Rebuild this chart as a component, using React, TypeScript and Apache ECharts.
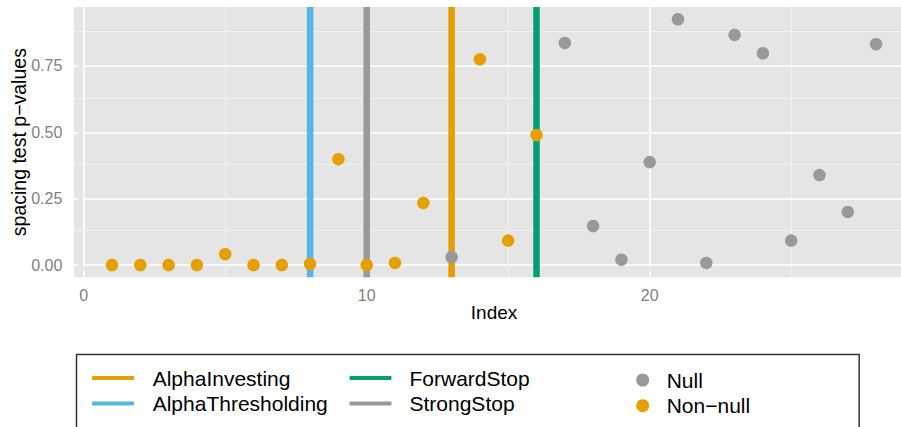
import React, { useEffect, useRef } from "react";
import * as echarts from "echarts";

// ---- data ----
const indices = [1, 2, 3, 4, 5, 6, 7, 8, 9, 10, 11, 12, 13, 14, 15, 16, 17, 18, 19, 20, 21, 22, 23, 24, 25, 26, 27, 28];
const pValues = [0.0, 0.0, 0.0, 0.0, 0.041, 0.0, 0.0, 0.004, 0.399, 0.0, 0.008, 0.234, 0.03, 0.775, 0.092, 0.49, 0.837, 0.147, 0.02, 0.388, 0.926, 0.008, 0.867, 0.798, 0.092, 0.339, 0.2, 0.832];
const truth = [
  "Non-null", "Non-null", "Non-null", "Non-null", "Non-null", "Non-null", "Non-null",
  "Non-null", "Non-null", "Non-null", "Non-null", "Non-null", "Null", "Non-null",
  "Non-null", "Non-null", "Null", "Null", "Null", "Null", "Null",
  "Null", "Null", "Null", "Null", "Null", "Null", "Null",
];
const stopRules = ["AlphaInvesting", "AlphaThresholding", "ForwardStop", "StrongStop"];
const stopIndex = [13, 8, 16, 10];
const stopColors = ["#E69F00", "#56B4E9", "#009E73", "#999999"];
const pointGroups = ["Null", "Non-null"];
const pointColors = ["#999999", "#E69F00"];

const xTicks = [0, 10, 20];
const yTicks = [0, 0.25, 0.5, 0.75];
const xMinorGrid = [5, 15, 25];
const yMinorGrid = [0.125, 0.375, 0.625, 0.875];
// visible part of the panel (it runs on past the right edge of the picture)
const xRange = [-0.35, 28.88];
const yRange = [-0.0463, 0.9723];

const FONT = "Liberation Sans, Arial, Helvetica, sans-serif";

export default function App() {
  const ref = useRef<HTMLDivElement>(null);
  useEffect(() => {
    if (!ref.current) return;
    const chart = echarts.init(ref.current, null, { renderer: "svg" });

    const gridLineData: any[] = [];
    xMinorGrid.forEach((v) => gridLineData.push({ xAxis: v, lineStyle: { color: "#F2F2F2", width: 0.9, type: "solid" } }));
    yMinorGrid.forEach((v) => gridLineData.push({ yAxis: v, lineStyle: { color: "#F2F2F2", width: 0.9, type: "solid" } }));
    xTicks.forEach((v) => gridLineData.push({ xAxis: v, lineStyle: { color: "#FFFFFF", width: 1.6, type: "solid" } }));
    yTicks.forEach((v) => gridLineData.push({ yAxis: v, lineStyle: { color: "#FFFFFF", width: 1.6, type: "solid" } }));

    const stopSeries = stopRules.map((name, i) => ({
      name,
      type: "line",
      z: 3,
      showSymbol: false,
      silent: true,
      data: [
        [stopIndex[i], yRange[0]],
        [stopIndex[i], yRange[1]],
      ],
      lineStyle: { color: stopColors[i], width: 6.5, cap: "butt" },
      itemStyle: { color: stopColors[i] },
    }));

    const pointSeries = pointGroups.map((g, gi) => ({
      name: g,
      type: "scatter",
      z: 4,
      symbol: "circle",
      symbolSize: 12.5,
      itemStyle: { color: pointColors[gi], opacity: 1 },
      data: indices
        .map((x, i) => (truth[i] === g ? [x, pValues[i]] : null))
        .filter((d) => d !== null),
    }));

    const legendText = {
      fontFamily: FONT,
      fontSize: 21,
      lineHeight: 21,
      color: "#000000",
    };

    chart.setOption({
      animation: false,
      textStyle: { fontFamily: FONT },
      grid: {
        left: 73.8,
        top: 7,
        right: 0,
        bottom: 427 - 277.3,
        show: true,
        backgroundColor: "#E5E5E5",
        borderWidth: 0,
        containLabel: false,
        outerBoundsMode: "none",
      },
      xAxis: {
        type: "value",
        min: xRange[0],
        max: xRange[1],
        name: "Index",
        nameLocation: "middle",
        nameGap: 26,
        nameMoveOverlap: false,
        nameTextStyle: { fontFamily: FONT, fontSize: 19, color: "#000000", padding: [0, 0, 0, 13.3] },
        axisLine: { show: false },
        splitLine: { show: false },
        axisTick: {
          show: true,
          customValues: xTicks,
          length: 6,
          lineStyle: { color: "#7F7F7F", width: 1.5 },
        },
        axisLabel: {
          customValues: xTicks,
          fontFamily: FONT,
          fontSize: 16,
          color: "#7F7F7F",
          margin: 10,
        },
      },
      yAxis: {
        type: "value",
        min: yRange[0],
        max: yRange[1],
        name: "spacing test p\u2212values",
        nameLocation: "middle",
        nameGap: 44.5,
        nameMoveOverlap: false,
        nameTextStyle: { fontFamily: FONT, fontSize: 19.5, color: "#000000" },
        axisLine: { show: false },
        splitLine: { show: false },
        axisTick: {
          show: true,
          customValues: yTicks,
          length: 6,
          lineStyle: { color: "#7F7F7F", width: 1.5 },
        },
        axisLabel: {
          customValues: yTicks,
          fontFamily: FONT,
          fontSize: 16,
          color: "#7F7F7F",
          margin: 11.5,
          formatter: (v: number) => v.toFixed(2),
        },
      },
      legend: [
        {
          data: ["AlphaInvesting", "AlphaThresholding"],
          orient: "vertical",
          left: 92,
          top: 367.5,
          padding: 0,
          itemGap: 4.5,
          itemWidth: 42,
          itemHeight: 4,
          icon: "roundRect",
          selectedMode: false,
          textStyle: { ...legendText, padding: [0, 0, 0, 13.7] },
        },
        {
          data: ["ForwardStop", "StrongStop"],
          orient: "vertical",
          left: 349.5,
          top: 367.5,
          padding: 0,
          itemGap: 4.5,
          itemWidth: 42,
          itemHeight: 4,
          icon: "roundRect",
          selectedMode: false,
          textStyle: { ...legendText, padding: [0, 0, 0, 13] },
        },
        {
          data: ["Null", "Non-null"],
          orient: "vertical",
          left: 636.2,
          top: 369.5,
          padding: 0,
          itemGap: 4.7,
          itemWidth: 13,
          itemHeight: 13,
          icon: "circle",
          selectedMode: false,
          textStyle: { ...legendText, padding: [0, 0, 0, 12.5] },
          formatter: (n: string) => (n === "Non-null" ? "Non\u2212null" : n),
        },
      ],
      graphic: [
        {
          type: "rect",
          left: 74,
          top: 352,
          shape: { width: 782.7, height: 120 },
          style: { fill: "none", stroke: "#333333", lineWidth: 1.5 },
          silent: true,
        },
      ],
      series: [
        {
          name: "grid",
          type: "line",
          z: 1,
          silent: true,
          data: [],
          markLine: {
            z: 1,
            silent: true,
            symbol: ["none", "none"],
            label: { show: false },
            animation: false,
            data: gridLineData,
          },
        },
        ...stopSeries,
        ...pointSeries,
      ],
    });
    return () => chart.dispose();
  }, []);
  return (
    <div
      ref={ref}
      style={{ position: "absolute", left: 0, top: 0, width: 901, height: 427 }}
    />
  );
}
